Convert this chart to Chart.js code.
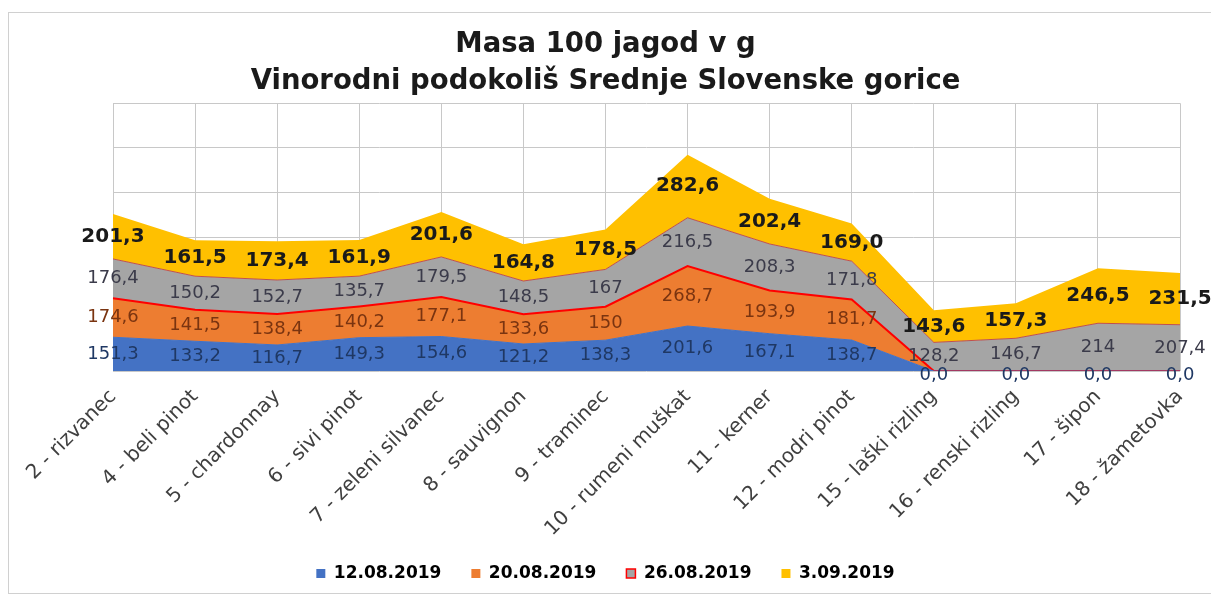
<!DOCTYPE html>
<html>
<head>
<meta charset="utf-8">
<script src="https://cdn.jsdelivr.net/npm/chart.js@4"></script>
<style>
  body { margin: 0; background: #fff; }
  #wrap { position: relative; width: 1211px; height: 597px; }
  #frame { position: absolute; left: 8px; top: 12px; width: 1220px; height: 580px; border: 1px solid #d0d0d0; pointer-events: none; }
</style>
</head>
<body>
<div id="wrap">
  <canvas id="massChart" width="1211" height="597"></canvas>
  <div id="frame"></div>
</div>
<script>
const categories = ['2 - rizvanec', '4 - beli pinot', '5 - chardonnay', '6 - sivi pinot', '7 - zeleni silvanec',
  '8 - sauvignon', '9 - traminec', '10 - rumeni muškat', '11 - kerner', '12 - modri pinot',
  '15 - laški rizling', '16 - renski rizling', '17 - šipon', '18 - žametovka'];
const mass1208 = [151.3, 133.2, 116.7, 149.3, 154.6, 121.2, 138.3, 201.6, 167.1, 138.7, 0, 0, 0, 0];
const mass2008 = [174.6, 141.5, 138.4, 140.2, 177.1, 133.6, 150, 268.7, 193.9, 181.7, 0, 0, 0, 0];
const mass2608 = [176.4, 150.2, 152.7, 135.7, 179.5, 148.5, 167, 216.5, 208.3, 171.8, 128.2, 146.7, 214, 207.4];
const mass0309 = [201.3, 161.5, 173.4, 161.9, 201.6, 164.8, 178.5, 282.6, 202.4, 169.0, 143.6, 157.3, 246.5, 231.5];
const seriesNames = ['12.08.2019', '20.08.2019', '26.08.2019', '3.09.2019'];

const FONT = '"DejaVu Sans", sans-serif';
const oneDec = v => v.toFixed(1).replace('.', ',');
const general = v => String(v).replace('.', ',');

// labels in the middle of each stacked band, like Excel
const bandLabels = {
  id: 'bandLabels',
  afterDatasetsDraw(chart) {
    const ctx = chart.ctx;
    const y0 = chart.scales.y.getPixelForValue(0);
    chart.data.datasets.forEach((ds, i) => {
      const meta = chart.getDatasetMeta(i);
      const prev = i > 0 ? chart.getDatasetMeta(i - 1) : null;
      ctx.save();
      ctx.font = ds.lblFont;
      ctx.fillStyle = ds.lblColor;
      ctx.textAlign = 'center';
      ctx.textBaseline = 'middle';
      meta.data.forEach((pt, j) => {
        const v = ds.data[j];
        if (v === 0 && !ds.showZero) return;
        const yb = prev ? prev.data[j].y : y0;
        let y = (pt.y + yb) / 2;
        if (v === 0) y += 4;
        ctx.fillText(ds.fmt(v), pt.x, y);
      });
      ctx.restore();
    });
  }
};

new Chart(document.getElementById('massChart').getContext('2d'), {
  type: 'line',
  data: {
    labels: categories,
    datasets: [
      { label: seriesNames[0], data: mass1208, backgroundColor: '#4472c4', borderColor: '#4472c4', borderWidth: 1,
        fill: 'origin', fmt: oneDec, showZero: true, lblColor: '#1f3864', lblFont: '18px ' + FONT },
      { label: seriesNames[1], data: mass2008, backgroundColor: '#ed7d31', borderColor: '#ff0000', borderWidth: 2,
        fill: '-1', fmt: general, lblColor: '#7a3410', lblFont: '18px ' + FONT },
      { label: seriesNames[2], data: mass2608, backgroundColor: '#a5a5a5', borderColor: '#c0504d', borderWidth: 1,
        fill: '-1', fmt: general, lblColor: '#3b3b4a', lblFont: '18px ' + FONT },
      { label: seriesNames[3], data: mass0309, backgroundColor: '#ffc000', borderColor: '#ffc000', borderWidth: 0,
        fill: '-1', fmt: oneDec, lblColor: '#1a1a1a', lblFont: 'bold 20px ' + FONT }
    ]
  },
  options: {
    responsive: false,
    animation: false,
    elements: { point: { radius: 0 }, line: { tension: 0 } },
    layout: { padding: { left: 0, right: 0, top: 0, bottom: 5 } },
    scales: {
      x: {
        offset: false,
        grid: { color: '#c8c8c8', drawTicks: false },
        border: { display: false },
        ticks: { color: '#404040', font: { family: FONT, size: 20 }, minRotation: 45, maxRotation: 45, padding: 14 },
        afterFit: s => { s.height = 164; }
      },
      y: {
        stacked: true,
        min: 0, max: 1200,
        ticks: { display: false, stepSize: 200 },
        grid: { color: '#c8c8c8', drawTicks: false },
        border: { display: false },
        afterFit: s => { s.width = 113; }
      },
      yRight: {
        position: 'right',
        ticks: { display: false },
        grid: { display: false },
        border: { display: false },
        afterFit: s => { s.width = 29; }
      }
    },
    plugins: {
      title: {
        display: true,
        text: ['Masa 100 jagod v g', 'Vinorodni podokoliš Srednje Slovenske gorice'],
        color: '#1a1a1a',
        font: { family: FONT, size: 27.5, weight: 'bold', lineHeight: 1.35 },
        padding: { top: 26, bottom: 3 }
      },
      legend: {
        position: 'bottom',
        labels: {
          boxWidth: 9, boxHeight: 9,
          color: '#262626',
          padding: 30,
          font: { family: FONT, size: 17, weight: 'bold' },
          generateLabels: chart => chart.data.datasets.map((ds, i) => ({
            text: ds.label,
            fillStyle: ds.backgroundColor,
            strokeStyle: i === 2 ? '#ff0000' : ds.backgroundColor,
            lineWidth: i === 2 ? 1.5 : 0,
            datasetIndex: i
          }))
        }
      },
      tooltip: { enabled: false }
    }
  },
  plugins: [bandLabels]
});
</script>
</body>
</html>
